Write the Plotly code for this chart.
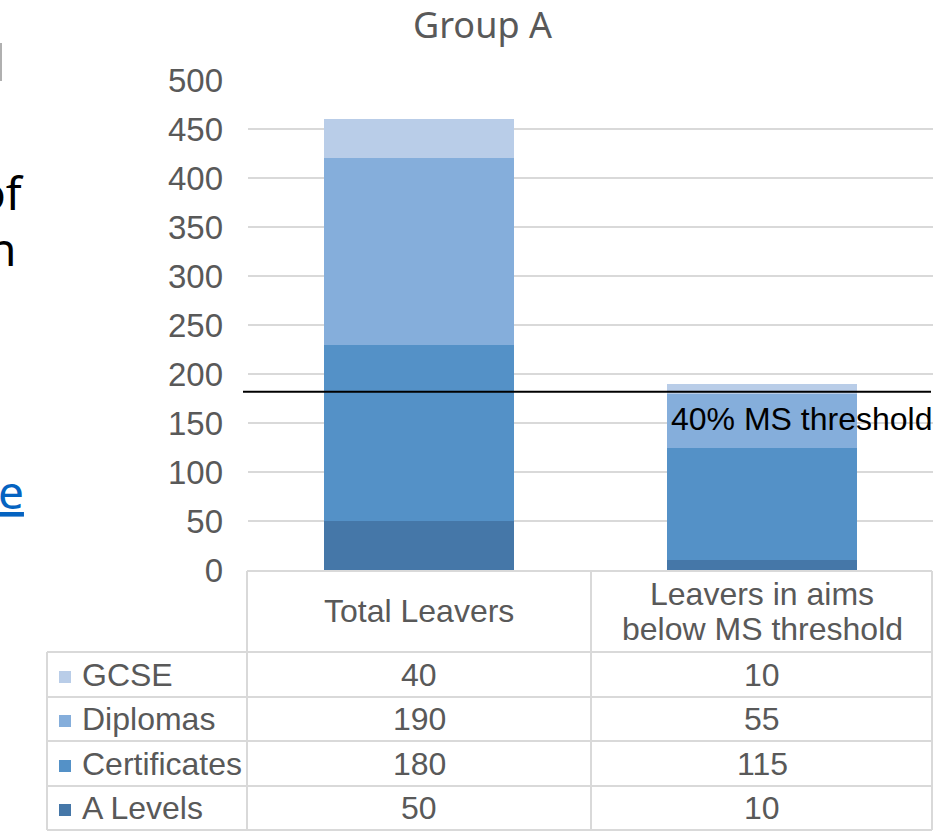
import plotly.graph_objects as go

W, H = 948, 836

categories = ["Total Leavers", "Leavers in aims below MS threshold"]
header_lines = [["Total Leavers"], ["Leavers in aims", "below MS threshold"]]
series_names = ["GCSE", "Diplomas", "Certificates", "A Levels"]
gcse = [40, 10]
diplomas = [190, 55]
certificates = [180, 115]
a_levels = [50, 10]
threshold = 182
threshold_label = "40% MS threshold"
y_ticks = [0, 50, 100, 150, 200, 250, 300, 350, 400, 450, 500]
title_text = "Group A"

colors = {
    "GCSE": "#b9cde8",
    "Diplomas": "#85aedb",
    "Certificates": "#5491c7",
    "A Levels": "#4577a8",
}
values = {"GCSE": gcse, "Diplomas": diplomas, "Certificates": certificates, "A Levels": a_levels}

def X(px):
    return px / W

def Y(py):
    return 1 - py / H

ARIAL = "Liberation Sans, Arial, sans-serif"
GREY = "#595959"
BORDER = "#d9d9d9"

fig = go.Figure()
for name in ["A Levels", "Certificates", "Diplomas", "GCSE"]:
    fig.add_trace(go.Bar(
        x=categories, y=values[name], name=name,
        marker=dict(color=colors[name], line=dict(width=0)),
        showlegend=False, hoverinfo="skip",
    ))

shapes = []
# threshold line
shapes.append(dict(type="line", xref="paper", yref="y", x0=X(243), x1=X(931),
                   y0=threshold, y1=threshold, line=dict(color="black", width=2)))
# table borders
def hline(py, x0, x1):
    shapes.append(dict(type="line", xref="paper", yref="paper", x0=X(x0), x1=X(x1),
                       y0=Y(py), y1=Y(py), line=dict(color=BORDER, width=2)))
def vline(px, y0, y1):
    shapes.append(dict(type="line", xref="paper", yref="paper", x0=X(px), x1=X(px),
                       y0=Y(y0), y1=Y(y1), line=dict(color=BORDER, width=2)))

hline(571, 247, 932)
for py in [652, 697, 741, 786, 830]:
    hline(py, 47, 932)
vline(47, 652, 830)
for px in [247, 591, 932]:
    vline(px, 571, 830)

# left edge fragment line
shapes.append(dict(type="line", xref="paper", yref="paper", x0=X(1), x1=X(1),
                   y0=Y(43), y1=Y(81), line=dict(color="#b0b0b0", width=2)))

annotations = []
def text(px, py, s, size=32, color=GREY, xanchor="center", family=ARIAL):
    annotations.append(dict(x=X(px), y=Y(py), xref="paper", yref="paper", text=s,
                            showarrow=False, xanchor=xanchor, yanchor="middle",
                            font=dict(family=family, size=size, color=color)))

# title
text(482, 25, title_text, size=36, family="Noto Sans, Open Sans, sans-serif")
# threshold label
text(934, 419, threshold_label, size=32, color="black", xanchor="right")

col_centers = [419, 762]
# header
text(col_centers[0], 611, header_lines[0][0])
text(col_centers[1], 594, header_lines[1][0])
text(col_centers[1], 629, header_lines[1][1])

row_centers = [675, 719, 764, 808]
for i, name in enumerate(series_names):
    yc = row_centers[i]
    shapes.append(dict(type="rect", xref="paper", yref="paper",
                       x0=X(59), x1=X(71), y0=Y(yc - 4), y1=Y(yc + 8),
                       fillcolor=colors[name], line=dict(width=0)))
    text(80, yc, name, xanchor="left")
    for j in range(2):
        text(col_centers[j], yc, str(values[name][j]))

# left cut-off slide text fragments
text(26, 192, "of", size=46, color="black", xanchor="right", family="Noto Sans, sans-serif")
text(18, 248, "n", size=46, color="black", xanchor="right", family="Noto Sans, sans-serif")
annotations.append(dict(x=X(26), y=Y(491), xref="paper", yref="paper", text="<u>e</u>",
                        showarrow=False, xanchor="right", yanchor="middle",
                        font=dict(family="Noto Sans, sans-serif", size=46, color="#0563c1")))

fig.update_layout(
    width=W, height=H,
    margin=dict(l=0, r=0, t=0, b=0, pad=0),
    paper_bgcolor="white", plot_bgcolor="white",
    barmode="stack", bargap=0.445,
    showlegend=False,
    xaxis=dict(domain=[X(248), X(933)], showticklabels=False, showgrid=False,
               zeroline=False, showline=False, ticks="", automargin=False),
    yaxis=dict(domain=[Y(570), Y(80)], range=[0, 500], tickvals=y_ticks,
               showgrid=True, gridcolor=BORDER, gridwidth=1.5, zeroline=False,
               showline=False, ticks="", ticklabelstandoff=24, automargin=False,
               tickfont=dict(family=ARIAL, size=33, color=GREY)),
    shapes=shapes, annotations=annotations,
)

fig.write_html("out.html", config={"displayModeBar": False},
               post_script="document.body.style.margin='0';document.body.style.overflow='hidden';")
